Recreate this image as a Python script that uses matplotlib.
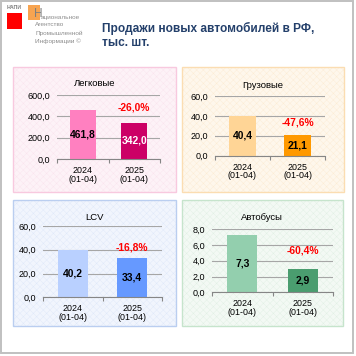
import matplotlib
matplotlib.use("Agg")
import matplotlib.pyplot as plt
from matplotlib.patches import Rectangle

plt.rcParams['font.family'] = ['Liberation Sans', 'DejaVu Sans']
plt.rcParams['hatch.linewidth'] = 0.3

# ---- data ----
categories = ["2024\n(01-04)", "2025\n(01-04)"]
panel_titles = ["Легковые", "Грузовые", "LCV", "Автобусы"]
cars = [461.8, 342.0]
trucks = [40.4, 21.1]
lcv = [40.2, 33.4]
buses = [7.3, 2.9]
changes = ["-26,0%", "-47,6%", "-16,8%", "-60,4%"]
yticks_cars = [0, 200, 400, 600]
yticks_trucks = [0, 20, 40, 60]
yticks_lcv = [0, 20, 40, 60]
yticks_buses = [0, 2, 4, 6, 8]
main_title = "Продажи новых автомобилей в РФ,\nтыс. шт."

W = H = 356
DPI = 100
fig = plt.figure(figsize=(W / DPI, H / DPI), dpi=DPI)
fig.patch.set_facecolor("white")


def rect_fig(x0, y0, x1, y1):
    return (x0 / W, 1 - y1 / H), (x1 - x0) / W, (y1 - y0) / H


# outer frame
xy, w, h = rect_fig(1, 1, 353, 353)
fig.add_artist(Rectangle(xy, w, h, transform=fig.transFigure, facecolor="none",
                         edgecolor="#C0C0C0", lw=1.4, zorder=-2))

panels = [
    dict(vals=cars, ticks=yticks_cars, box=(13, 67, 176, 192), ax=(57, 95, 160, 159),
         fill="#FDF2F7", hatch="#FAE3EE", border="#F8C9DF",
         colors=["#FF80C0", "#CC0066"], txt=["black", "white"],
         title_xy=(94.5, 84), pct_y=0.80),
    dict(vals=trucks, ticks=yticks_trucks, box=(182, 67, 344, 192), ax=(215, 96, 325, 155.7),
         fill="#FEF7EC", hatch="#FCEBD3", border="#FBDDB2",
         colors=["#FFD596", "#FF9900"], txt=["black", "black"],
         title_xy=(263, 85.7), pct_y=0.55),
    dict(vals=lcv, ticks=yticks_lcv, box=(13, 200, 176, 326), ax=(43, 226, 162, 297.3),
         fill="#F1F5FD", hatch="#DFE8F9", border="#BACEF0",
         colors=["#B9D0FF", "#6699FF"], txt=["black", "black"],
         title_xy=(94.5, 217), pct_y=0.70),
    dict(vals=buses, ticks=yticks_buses, box=(182, 200, 343, 326), ax=(212, 229.3, 333, 292.3),
         fill="#F3F9F4", hatch="#E1F0E4", border="#C6E4CC",
         colors=["#93CFAE", "#4A9D6F"], txt=["black", "black"],
         title_xy=(262, 217.3), pct_y=0.67),
]

def fmt(v):
    return f"{v:.1f}".replace(".", ",")

for i, p in enumerate(panels):
    x0, y0, x1, y1 = p["box"]
    xy, w, h = rect_fig(x0, y0, x1, y1)
    fig.add_artist(Rectangle(xy, w, h, transform=fig.transFigure, facecolor=p["fill"],
                             edgecolor=p["hatch"], hatch="xxxxx", lw=0, zorder=-1))
    fig.add_artist(Rectangle(xy, w, h, transform=fig.transFigure, facecolor="none",
                             edgecolor=p["border"], lw=1.0, zorder=-0.5))
    fig.text(p["title_xy"][0] / W, 1 - p["title_xy"][1] / H, panel_titles[i],
             ha="center", va="center", fontsize=6.8, color="black")

    ax0, ay0, ax1, ay1 = p["ax"]
    xy, w, h = rect_fig(ax0, ay0, ax1, ay1)
    ax = fig.add_axes([xy[0], xy[1], w, h])
    ax.patch.set_visible(False)
    xs = list(range(len(categories)))
    ax.bar(xs, p["vals"], width=0.5, color=p["colors"], zorder=3)
    ax.set_xlim(-0.5, 1.5)
    ax.set_ylim(p["ticks"][0], p["ticks"][-1])
    ax.set_yticks(p["ticks"])
    ax.set_yticklabels([fmt(t) for t in p["ticks"]])
    ax.yaxis.grid(True, color="#A6A6A6", lw=0.8, zorder=0)
    ax.set_axisbelow(True)
    ax.tick_params(axis="y", length=0, labelsize=6.5, pad=5)
    ax.set_xticks(xs)
    ax.set_xticklabels(categories, fontsize=6.4, linespacing=0.95)
    ax.set_xticks([-0.5, 0.5, 1.5], minor=True)
    ax.tick_params(axis="x", which="major", length=0, pad=5)
    ax.tick_params(axis="x", which="minor", length=3, width=0.8, color="#868686", direction="out")
    for s in ["top", "right", "left"]:
        ax.spines[s].set_visible(False)
    ax.spines["bottom"].set_color("#868686")
    ax.spines["bottom"].set_linewidth(0.8)
    ax.spines["bottom"].set_zorder(4)
    for x, v, c in zip(xs, p["vals"], p["txt"]):
        ax.text(x, v / 2, fmt(v), ha="center", va="center", fontsize=7.4,
                fontweight="bold", color=c, zorder=5)
    ax.text(1, p["pct_y"], changes[i], transform=ax.get_xaxis_transform(),
            ha="center", va="center", fontsize=7.4, fontweight="bold", color="#FF0000", zorder=5)

# main title
fig.text(102 / W, 1 - 35.5 / H, main_title, ha="left", va="center", fontsize=8.6,
         fontweight="bold", color="#24406B", linespacing=1.25)

# logo
xy, w, h = rect_fig(7, 13, 22, 29)
fig.add_artist(Rectangle(xy, w, h, transform=fig.transFigure, facecolor="#FF0000", lw=0))
xy, w, h = rect_fig(28, 5, 40, 20)
fig.add_artist(Rectangle(xy, w, h, transform=fig.transFigure, facecolor="#F79A3E", lw=0, alpha=0.9))
fig.text(7 / W, 1 - 7.5 / H, "НАПИ", fontsize=3.8, fontweight="bold", color="#7F7F7F",
         ha="left", va="center")
fig.text(34 / W, 1 - 14 / H, "Н", fontsize=8.5, color="#7F7F7F", ha="left", va="center")
logo_lines = [("ациональное", 41, 17), ("Агентство", 35, 25),
              ("Промышленной", 35, 33), ("Информации ©", 35, 41)]
for t, x, y in logo_lines:
    fig.text(x / W, 1 - y / H, t, fontsize=4.6, color="#8C8C8C", ha="left", va="center")

fig.savefig("out.png", dpi=DPI)
